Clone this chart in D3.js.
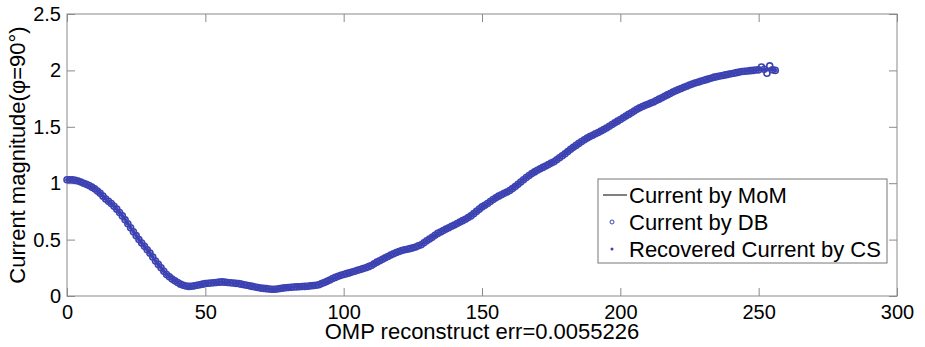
<!doctype html>
<html>
  <head>
    <script src="https://cdn.jsdelivr.net/npm/d3@7/dist/d3.min.js"></script>
    <style>
    body { margin: 0; background: #fff; }
    text { font-family: "Liberation Sans", Arial, sans-serif; fill: #000; }
    .axis path, .axis line { stroke: #8a8a8a; }
    </style>
  </head>
  <body>
    <div id="viz">
      <svg style="width:925px;height:347px;"></svg>
    </div>
    <script>
      var magnitude = [
        1.03, 1.03, 1.03, 1.025, 1.02, 1.01, 1.00, 0.99, 0.98, 0.965,
        0.95, 0.93, 0.91, 0.885, 0.86, 0.84, 0.82, 0.795, 0.77, 0.74,
        0.71, 0.675, 0.64, 0.605, 0.57, 0.535, 0.50, 0.47, 0.44, 0.41,
        0.38, 0.345, 0.31, 0.28, 0.25, 0.22, 0.19, 0.17, 0.15, 0.135,
        0.12, 0.105, 0.095, 0.088, 0.085, 0.086, 0.09, 0.095, 0.10, 0.105,
        0.11, 0.113, 0.115, 0.118, 0.12, 0.123, 0.125, 0.123, 0.12, 0.118,
        0.115, 0.112, 0.11, 0.105, 0.10, 0.095, 0.09, 0.085, 0.08, 0.075,
        0.07, 0.068, 0.065, 0.062, 0.06, 0.06, 0.062, 0.066, 0.07, 0.073,
        0.075, 0.078, 0.08, 0.081, 0.082, 0.084, 0.085, 0.087, 0.09, 0.092,
        0.095, 0.10, 0.11, 0.12, 0.13, 0.142, 0.155, 0.165, 0.175, 0.183,
        0.19, 0.198, 0.205, 0.213, 0.22, 0.228, 0.235, 0.243, 0.25, 0.26,
        0.27, 0.285, 0.30, 0.313, 0.325, 0.338, 0.35, 0.363, 0.375, 0.385,
        0.395, 0.403, 0.41, 0.415, 0.42, 0.427, 0.435, 0.445, 0.455, 0.472,
        0.49, 0.505, 0.52, 0.538, 0.555, 0.568, 0.58, 0.593, 0.605, 0.618,
        0.63, 0.643, 0.655, 0.668, 0.68, 0.695, 0.71, 0.73, 0.75, 0.77,
        0.79, 0.805, 0.82, 0.838, 0.855, 0.87, 0.885, 0.898, 0.91, 0.922,
        0.935, 0.952, 0.97, 0.99, 1.01, 1.03, 1.05, 1.068, 1.085, 1.10,
        1.115, 1.128, 1.14, 1.153, 1.165, 1.178, 1.19, 1.208, 1.225, 1.243,
        1.26, 1.28, 1.30, 1.318, 1.335, 1.353, 1.37, 1.385, 1.40, 1.413,
        1.425, 1.438, 1.45, 1.463, 1.475, 1.49, 1.505, 1.52, 1.535, 1.55,
        1.565, 1.58, 1.595, 1.61, 1.625, 1.64, 1.655, 1.668, 1.68, 1.69,
        1.70, 1.71, 1.72, 1.733, 1.745, 1.758, 1.77, 1.783, 1.795, 1.808,
        1.82, 1.83, 1.84, 1.85, 1.86, 1.87, 1.88, 1.888, 1.895, 1.903,
        1.91, 1.918, 1.925, 1.933, 1.94, 1.945, 1.95, 1.955, 1.96, 1.965,
        1.97, 1.975, 1.98, 1.985, 1.99, 1.993, 1.995, 1.998, 2.00, 2.003,
        2.005, 2.008, 2.01, 2.01, 2.01, 2.005, 2.00
      ];
      // the few DB samples that stray from the MoM curve near the end
      var dbStray = [[251, 2.03], [253, 1.975], [254, 2.04]];

      var xTicks = [0, 50, 100, 150, 200, 250, 300];
      var yTicks = [0, 0.5, 1, 1.5, 2, 2.5];
      var legendLabels = ["Current by MoM", "Current by DB", "Recovered Current by CS"];
      var xLabel = "OMP reconstruct err=0.0055226";
      var yLabel = "Current magnitude(\u03c6=90\u00b0)";

      var blue = "#3c42b2";
      var plotL = 67, plotR = 897, plotT = 14, plotB = 296;

      var svg = d3.select("svg");
      var x = d3.scaleLinear().domain([0, 300]).range([plotL, plotR]);
      var y = d3.scaleLinear().domain([0, 2.5]).range([plotB, plotT]);

      var mom = magnitude.map((v, i) => ({i: i, v: v}));
      var db = mom.map(d => ({i: d.i, v: d.v}));
      dbStray.forEach(s => { db[s[0]].v = s[1]; });

      // box
      svg.append("rect")
        .attr("x", plotL).attr("y", plotT)
        .attr("width", plotR - plotL).attr("height", plotB - plotT)
        .style("fill", "none").style("stroke", "#8a8a8a");

      // axes with inward ticks on all four sides
      svg.append("g").attr("class", "axis")
        .attr("transform", `translate(0,${plotB})`)
        .call(d3.axisBottom(x).tickValues(xTicks).tickSizeInner(-8).tickSizeOuter(0).tickPadding(9))
        .call(g => g.select(".domain").remove())
        .selectAll("text").style("font-size", "20px").attr("fill", "#000");
      svg.append("g").attr("class", "axis")
        .attr("transform", `translate(0,${plotT})`)
        .call(d3.axisTop(x).tickValues(xTicks).tickSizeInner(-8).tickSizeOuter(0).tickFormat(""))
        .call(g => g.select(".domain").remove());
      svg.append("g").attr("class", "axis")
        .attr("transform", `translate(${plotL},0)`)
        .call(d3.axisLeft(y).tickValues(yTicks).tickSizeInner(-8).tickSizeOuter(0).tickPadding(6).tickFormat(d3.format("")))
        .call(g => g.select(".domain").remove())
        .selectAll("text").style("font-size", "20px").attr("fill", "#000");
      svg.append("g").attr("class", "axis")
        .attr("transform", `translate(${plotR},0)`)
        .call(d3.axisRight(y).tickValues(yTicks).tickSizeInner(-8).tickSizeOuter(0).tickFormat(""))
        .call(g => g.select(".domain").remove());

      // MoM line
      svg.append("path")
        .datum(mom)
        .attr("d", d3.line().x(d => x(d.i)).y(d => y(d.v)))
        .style("fill", "none").style("stroke", "#000").style("stroke-width", 1);

      // DB circles
      svg.append("g").selectAll("circle")
        .data(db)
        .enter()
        .append("circle")
          .attr("cx", d => x(d.i))
          .attr("cy", d => y(d.v))
          .attr("r", 3)
          .style("fill", "none")
          .style("stroke", blue)
          .style("stroke-width", 1.6);

      // CS dots
      svg.append("g").selectAll("circle")
        .data(mom)
        .enter()
        .append("circle")
          .attr("cx", d => x(d.i))
          .attr("cy", d => y(d.v))
          .attr("r", 2)
          .style("fill", blue);

      // axis labels
      svg.append("text")
        .attr("x", (plotL + plotR) / 2).attr("y", 339)
        .style("text-anchor", "middle").style("font-size", "22px")
        .text(xLabel);
      svg.append("text")
        .attr("transform", `translate(25,${(plotT + plotB) / 2}) rotate(-90)`)
        .style("text-anchor", "middle").style("font-size", "22px")
        .text(yLabel);

      // legend
      var legend = svg.append("g");
      legend.append("rect")
        .attr("x", 598).attr("y", 179).attr("width", 289).attr("height", 84)
        .style("fill", "#fff").style("stroke", "#777");
      var rows = legend.selectAll("g.row")
        .data(legendLabels)
        .enter()
        .append("g")
          .attr("class", "row")
          .attr("transform", (d, i) => `translate(0,${195 + i * 27})`);
      rows.append("text")
        .attr("x", 629).attr("y", 7.5)
        .style("font-size", "22px")
        .text(d => d);
      rows.filter((d, i) => i === 0).append("line")
        .attr("x1", 603).attr("x2", 627).attr("y1", 0).attr("y2", 0)
        .style("stroke", "#000").style("stroke-width", 1);
      rows.filter((d, i) => i === 1).append("circle")
        .attr("cx", 612).attr("cy", 0).attr("r", 2)
        .style("fill", "none").style("stroke", blue).style("stroke-width", 1);
      rows.filter((d, i) => i === 2).append("circle")
        .attr("cx", 612).attr("cy", 0).attr("r", 1.5)
        .style("fill", blue);
    </script>
  </body>
</html>
